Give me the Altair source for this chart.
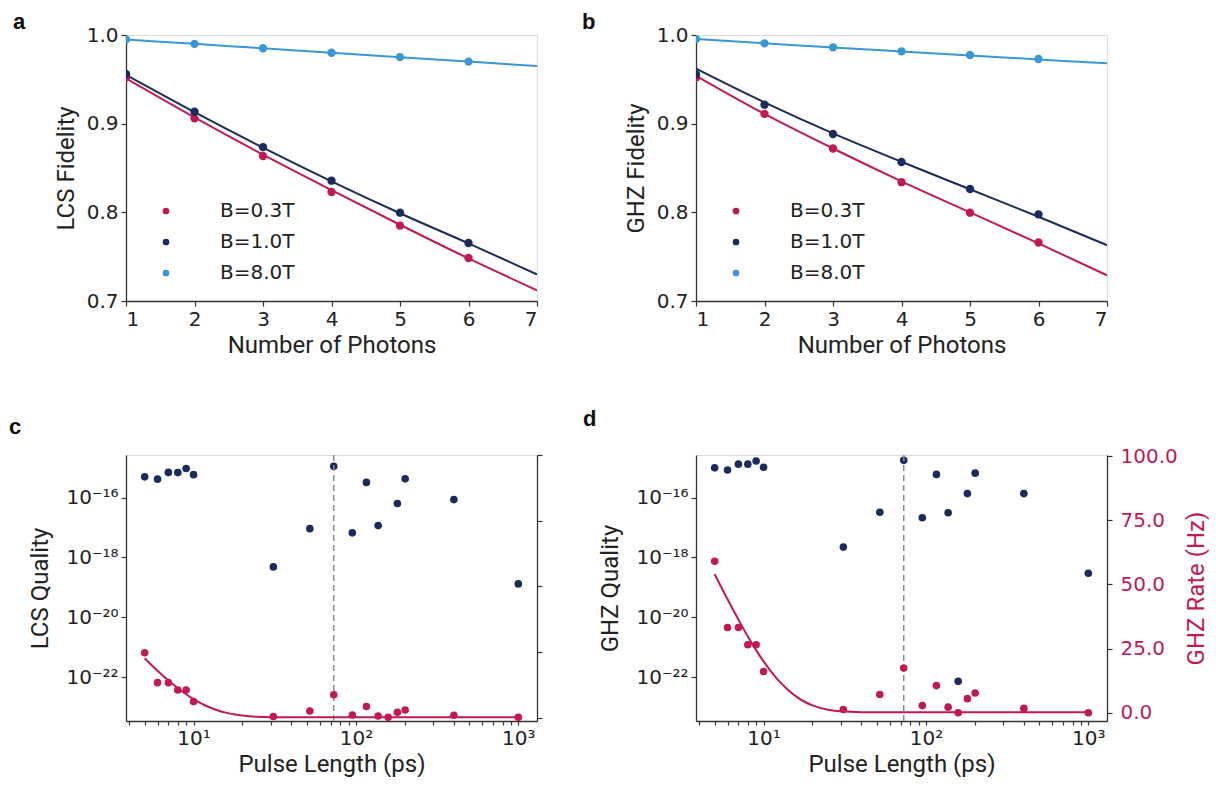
import math
import altair as alt
import pandas as pd

CRIMSON = "#c01a56"
NAVY = "#1b2b5b"
SKY = "#3a97d4"
FRAME = "#333333"
TEXT = "#222222"

# ---------------- panels a / b ----------------
series_names = ["B=0.3T", "B=1.0T", "B=8.0T"]
series_colors = [CRIMSON, NAVY, SKY]
photons = [1, 2, 3, 4, 5, 6]
fit_photons = [1, 2, 3, 4, 5, 6, 7]
photon_ticks = [1, 2, 3, 4, 5, 6, 7]
fidelity_ticks = [0.7, 0.8, 0.9, 1.0]

lcs_pts_03 = [0.952, 0.906, 0.8635, 0.823, 0.785, 0.7485]
lcs_pts_10 = [0.956, 0.9135, 0.8735, 0.8357, 0.7996, 0.7654]
lcs_pts_80 = [0.995, 0.990, 0.985, 0.980, 0.975, 0.970]
lcs_fit_03 = [0.951, 0.907, 0.865, 0.825, 0.786, 0.748, 0.712]
lcs_fit_10 = [0.955, 0.913, 0.873, 0.835, 0.799, 0.765, 0.730]
lcs_fit_80 = [0.995, 0.990, 0.985, 0.980, 0.975, 0.970, 0.965]

ghz_pts_03 = [0.952, 0.911, 0.872, 0.834, 0.7996, 0.766]
ghz_pts_10 = [0.9556, 0.9214, 0.8883, 0.8568, 0.8263, 0.7977]
ghz_pts_80 = [0.9955, 0.9906, 0.9861, 0.9816, 0.9774, 0.9729]
ghz_fit_03 = [0.954, 0.911, 0.872, 0.835, 0.800, 0.765, 0.729]
ghz_fit_10 = [0.962, 0.924, 0.889, 0.857, 0.826, 0.795, 0.763]
ghz_fit_80 = [0.9955, 0.9907, 0.986, 0.9815, 0.977, 0.9725, 0.968]

# ---------------- panels c / d ----------------
pulse_ps = [5, 6, 7, 8, 9, 10, 31, 52, 73, 95, 116, 137, 158, 180, 201, 401, 1000]
lcs_quality = [4.9e-16, 4.1e-16, 6.9e-16, 6.8e-16, 9.3e-16, 5.8e-16, 4.8e-19, 9.1e-18,
               1.1e-15, 6.6e-18, 3.2e-16, 1.15e-17, None, 6.3e-17, 4.2e-16, 8.5e-17, 1.3e-19]
lcs_rate = [24.7, 13.3, 13.3, 10.5, 10.5, 6.1, 0.4, 2.5, 8.7, 1.0, 4.2, 0.6, 0.1, 2.0, 2.9, 0.9, 0.1]
ghz_quality = [9.8e-16, 8.3e-16, 1.3e-15, 1.3e-15, 1.66e-15, 1.02e-15, 2.2e-18, 3.2e-17,
               1.74e-15, 2.1e-17, 5.9e-16, 3.1e-17, 7.2e-23, 1.35e-16, 6.5e-16, 1.35e-16, 2.95e-19]
ghz_rate = [59.0, 33.2, 33.2, 26.5, 26.5, 16.1, 1.3, 7.1, 17.4, 2.8, 10.6, 2.2, 0.0, 5.5, 7.7, 1.7, 0.0]

rate_fit_ps = [5, 6, 7, 8, 9, 10, 12, 14, 16, 18, 20, 25, 30, 40, 1000]
lcs_rate_fit = [22.6, 17.8, 14.1, 11.2, 8.9, 7.0, 4.4, 2.8, 1.8, 1.2, 0.8, 0.3, 0.15, 0.1, 0.1]
ghz_rate_fit = [54.0, 44.2, 36.3, 29.7, 24.4, 20.0, 13.5, 9.2, 6.2, 4.2, 2.9, 1.2, 0.55, 0.25, 0.2]

marker_ps = [73]

pulse_major_ticks = [10, 100, 1000]
pulse_major_labels = ["10¹", "10²", "10³"]
pulse_minor_ticks = [4, 5, 6, 7, 8, 9, 20, 30, 40, 50, 60, 70, 80, 90,
                     200, 300, 400, 500, 600, 700, 800, 900]
quality_ticks = [1e-16, 1e-18, 1e-20, 1e-22]
quality_labels = ["10⁻¹⁶", "10⁻¹⁸", "10⁻²⁰", "10⁻²²"]
rate_ticks = [0, 25, 50, 75, 100]

pulse_domain = [10 ** 0.584, 10 ** 3.115]
quality_domain = [10 ** -23.467, 10 ** -14.58]

W, H = 411, 266


def axis_style(**kw):
    base = dict(grid=False, domainColor=FRAME, domainWidth=1.3, tickColor=FRAME,
                tickWidth=1.2, tickSize=5, labelColor=TEXT, labelFont="DejaVu Sans",
                labelFontSize=20, labelPadding=3, titleFont="Roboto", titleFontSize=24,
                titleFontWeight="normal", titleColor=TEXT)
    base.update(kw)
    return alt.Axis(**base)


def label_expr_log(values, labels):
    parts = []
    for v, lab in zip(values, labels):
        e = math.log10(v)
        parts.append(f"abs(log(datum.value)/LN10 - ({e:.3f})) < 0.01 ? '{lab}' : ")
    return "".join(parts) + "''"


def panel_title(letter, dx, offset):
    return alt.TitleParams(letter, anchor="start", frame="group", dx=dx, offset=offset,
                           font="Liberation Sans", fontSize=22,
                           fontWeight="bold", color="#111111")


def long_df(xs, cols):
    rows = []
    for name, vals in zip(series_names, cols):
        for x, v in zip(xs, vals):
            rows.append({"n": x, "F": v, "B": name})
    return pd.DataFrame(rows)


def fidelity_panel(letter, ytitle, pts_cols, fit_cols, dx, offset):
    pts = long_df(photons, pts_cols)
    fit = long_df(fit_photons, fit_cols)
    cscale = alt.Scale(domain=series_names, range=series_colors)
    x = alt.X("n:Q", scale=alt.Scale(domain=[1, 7], nice=False, zero=False),
              axis=axis_style(values=photon_ticks, title="Number of Photons", format="d"))
    y = alt.Y("F:Q", scale=alt.Scale(domain=[0.7, 1.0], nice=False, zero=False),
              axis=axis_style(values=fidelity_ticks, format=".1f", title=ytitle, titlePadding=8))
    layers = []
    for name, col in zip(series_names, series_colors):
        layers.append(
            alt.Chart(fit).transform_filter(alt.datum.B == name)
            .mark_line(strokeWidth=2, clip=True, interpolate="monotone", color=col)
            .encode(x=x, y=y))
    points = alt.Chart(pts).mark_point(size=70, opacity=1, clip=True, filled=True,
                                       shape="circle").encode(
        x=x, y=y,
        color=alt.Color("B:N", scale=cscale, legend=alt.Legend(
            orient="none", legendX=30, legendY=166, title=None, labelFont="DejaVu Sans",
            labelFontSize=20, labelColor=TEXT, symbolSize=45, symbolType="circle",
            labelOffset=44, rowPadding=11)))
    layers.append(points)
    return alt.layer(*layers).properties(width=W, height=H,
                                         title=panel_title(letter, dx, offset))


def pulse_panel(letter, qtitle, qvals, rvals, rfit, rate_domain, show_rate, dx, offset):
    qdf = pd.DataFrame({"t": pulse_ps, "q": qvals}).dropna()
    rdf = pd.DataFrame({"t": pulse_ps, "r": rvals})
    fdf = pd.DataFrame({"t": rate_fit_ps, "r": rfit})
    mdf = pd.DataFrame({"t": marker_ps})
    x = alt.X("t:Q", scale=alt.Scale(type="log", domain=pulse_domain, nice=False),
              axis=axis_style(values=pulse_minor_ticks + pulse_major_ticks,
                              labelExpr=label_expr_log(pulse_major_ticks, pulse_major_labels),
                              title="Pulse Length (ps)", tickSize=4, labelOverlap=False))
    yq = alt.Y("q:Q", scale=alt.Scale(type="log", domain=quality_domain, nice=False),
               axis=axis_style(values=quality_ticks,
                               labelExpr=label_expr_log(quality_ticks, quality_labels),
                               title=qtitle, labelOverlap=False, titlePadding=13))
    if show_rate:
        raxis = axis_style(orient="right", values=rate_ticks, format=".1f",
                           title="GHZ Rate (Hz)", labelColor=CRIMSON, titleColor=CRIMSON,
                           titleAngle=270, titleBaseline="top", labelFontSize=20,
                           labelPadding=8, titlePadding=7)
    else:
        raxis = axis_style(orient="right", values=rate_ticks, labels=False, title=None)
    yr = alt.Y("r:Q", scale=alt.Scale(domain=rate_domain, nice=False, zero=False), axis=raxis)

    blue = alt.Chart(qdf).mark_circle(size=58, opacity=1, color=NAVY).encode(x=x, y=yq)
    rule = alt.Chart(mdf).mark_rule(color="#8c8c8c", strokeDash=[6, 4], strokeWidth=1.5).encode(x=x)
    rline = alt.Chart(fdf).mark_line(color=CRIMSON, strokeWidth=2, interpolate="monotone").encode(x=x, y=yr)
    rpts = alt.Chart(rdf).mark_circle(size=58, opacity=1, color=CRIMSON).encode(x=x, y=yr)
    red = alt.layer(rline, rpts)
    return alt.layer(blue, rule, red).resolve_scale(y="independent").properties(
        width=W, height=H, title=panel_title(letter, dx, offset))


pa = fidelity_panel("a", "LCS Fidelity", [lcs_pts_03, lcs_pts_10, lcs_pts_80],
                    [lcs_fit_03, lcs_fit_10, lcs_fit_80], -113, -9)
pb = fidelity_panel("b", "GHZ Fidelity", [ghz_pts_03, ghz_pts_10, ghz_pts_80],
                    [ghz_fit_03, ghz_fit_10, ghz_fit_80], -114, -9)
pc = pulse_panel("c", "LCS Quality", lcs_quality, lcs_rate, lcs_rate_fit, [-1.3, 100.0],
                 False, -117, 15)
pd_ = pulse_panel("d", "GHZ Quality", ghz_quality, ghz_rate, ghz_rate_fit, [-3.2, 100.4],
                  True, -113, 15)

chart = alt.concat(pa, pb, pc, pd_, columns=2, spacing={"row": 49, "column": 37}).properties(
    align="each", padding={"top": 2, "left": 0, "right": 0, "bottom": 0}
).resolve_scale(color="independent").configure_view(
    stroke=FRAME, strokeWidth=1.3).configure(background="white")

chart.save("out.html", embed_options={"renderer": "svg", "actions": False})
